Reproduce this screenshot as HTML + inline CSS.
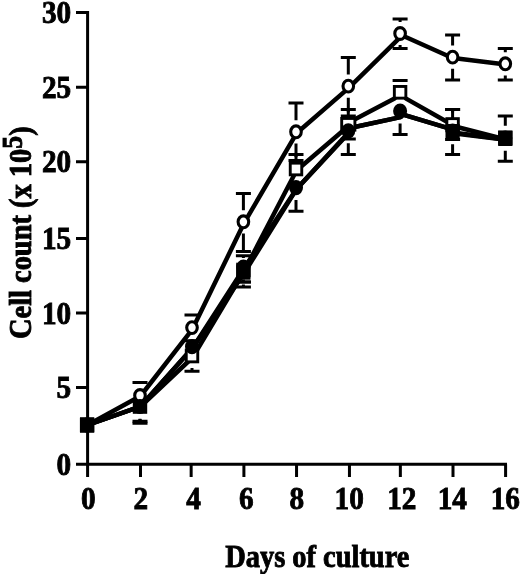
<!DOCTYPE html>
<html><head><meta charset="utf-8"><style>
html,body{margin:0;padding:0;background:#fff;}
svg{display:block;filter:grayscale(1);}
text{font-family:"Liberation Serif",serif;font-weight:bold;font-size:32.5px;fill:#000;stroke:#000;stroke-width:0.9px;}
</style></head><body>
<svg width="520" height="574" viewBox="0 0 520 574">
<g stroke="#000" stroke-width="3" fill="none">
<path d="M87.60 11V477M76 464.20H507M76 387.40H87.6M76 312.90H87.6M76 238.45H87.6M76 161.80H87.6M76 87.20H87.6M76 12.50H87.6M140.50 464.2V477M191.15 464.2V477M243.90 464.2V477M296.55 464.2V477M349.45 464.2V477M400.35 464.2V477M453.00 464.2V477M505.60 464.2V477"/>
</g>
<g>
<text transform="translate(71.2 474.84) scale(0.9 1)" text-anchor="end">0</text><text transform="translate(71.2 398.04) scale(0.9 1)" text-anchor="end">5</text><text transform="translate(71.2 323.54) scale(0.9 1)" text-anchor="end">10</text><text transform="translate(71.2 249.09) scale(0.9 1)" text-anchor="end">15</text><text transform="translate(71.2 172.44) scale(0.9 1)" text-anchor="end">20</text><text transform="translate(71.2 97.84) scale(0.9 1)" text-anchor="end">25</text><text transform="translate(71.2 23.14) scale(0.9 1)" text-anchor="end">30</text>
<text transform="translate(88.35 508.6) scale(0.9 1)" text-anchor="middle">0</text><text transform="translate(140.90 508.6) scale(0.9 1)" text-anchor="middle">2</text><text transform="translate(193.45 508.6) scale(0.9 1)" text-anchor="middle">4</text><text transform="translate(246.25 508.6) scale(0.9 1)" text-anchor="middle">6</text><text transform="translate(296.90 508.6) scale(0.9 1)" text-anchor="middle">8</text><text transform="translate(349.15 508.6) scale(0.9 1)" text-anchor="middle">10</text><text transform="translate(401.75 508.6) scale(0.9 1)" text-anchor="middle">12</text><text transform="translate(452.30 508.6) scale(0.9 1)" text-anchor="middle">14</text><text transform="translate(505.30 508.6) scale(0.9 1)" text-anchor="middle">16</text>
<text transform="translate(225.2 567.1) scale(0.875 1)">Days of culture</text>
<text transform="translate(31 339) rotate(-90) scale(0.875 1)">Cell count (x 10<tspan dy="-8.6" style="font-size:29.5px">5</tspan><tspan dy="8.6">)</tspan></text>
</g>
<g stroke="#000" stroke-width="3.0" fill="none">
<path d="M140.00 383.90V382.60M132.50 382.60h15M192.00 316.00V315.10M184.50 315.10h15M243.40 210.20V193.50M235.90 193.50h15M243.40 233.40V251.50M235.90 251.50h15M296.00 120.20V103.00M288.50 103.00h15M296.00 143.40V160.60M288.50 160.60h15M348.30 74.50V57.60M340.80 57.60h15M348.30 97.70V116.10M340.80 116.10h15M400.10 21.90V19.00M392.60 19.00h15M400.10 45.10V48.50M392.60 48.50h15M452.60 45.50V35.00M445.10 35.00h15M452.60 68.70V80.00M445.10 80.00h15M505.30 52.20V48.50M497.80 48.50h15M505.30 75.40V80.00M497.80 80.00h15"/>
<path d="M192.00 344.00V340.80M184.50 340.80h15M192.00 368.00V371.20M184.50 371.20h15M243.40 258.00V255.80M235.90 255.80h15M243.40 282.00V282.10M235.90 282.10h15M296.00 157.00V154.60M288.50 154.60h15M348.30 112.30V109.60M340.80 109.60h15M348.30 136.30V139.00M340.80 139.00h15M400.10 80.40V80.40M392.60 80.40h15M452.60 112.50V109.40M445.10 109.40h15M452.60 136.50V139.60M445.10 139.60h15"/>
<path d="M140.00 419.00V423.20M132.50 423.20h15M243.40 279.50V282.10M235.90 282.10h15M296.00 200.10V211.30M288.50 211.30h15M348.30 143.30V154.40M340.80 154.40h15M400.10 123.60V134.50M392.60 134.50h15"/>
<path d="M140.00 418.80V421.30M132.50 421.30h15M243.40 284.50V286.90M235.90 286.90h15M452.60 119.20V109.40M445.10 109.40h15M452.60 144.20V154.50M445.10 154.50h15M505.30 125.80V115.90M497.80 115.90h15M505.30 150.80V161.30M497.80 161.30h15"/>
</g>
<path d="M87.60 425.00L140.50 396.00M140.50 396.00L192.50 329.10M192.50 329.10L243.90 223.30M243.90 223.30L296.50 133.30M296.50 133.30L348.80 87.90M348.80 87.80L400.60 36.90M400.60 34.70L453.10 58.30M453.10 58.10L505.80 64.60" fill="none" stroke="#000" stroke-width="4.5" stroke-linecap="round"/>
<path d="M87.60 425.00L140.50 406.50M140.50 406.50L192.50 357.50M192.50 357.50L243.90 271.50M243.90 271.50L296.50 170.50M296.50 170.50L348.80 125.80M348.80 122.60L394.50 98.60M406.10 98.60L453.10 125.20M453.10 126.00L505.80 139.50" fill="none" stroke="#000" stroke-width="4.5" stroke-linecap="round"/>
<path d="M87.60 425.00L140.50 406.50M140.50 406.50L192.50 348.10M192.50 348.10L243.90 268.50M243.90 268.50L296.50 189.10M296.50 189.10L348.80 132.30M348.80 128.20L400.60 117.10M400.60 113.90L453.10 129.60M453.10 132.50L505.80 139.50" fill="none" stroke="#000" stroke-width="4.5" stroke-linecap="round"/>
<path d="M87.60 425.00L140.50 406.30M140.50 406.30L192.50 348.00M192.50 348.00L243.90 273.50M243.90 273.50L296.50 189.10M296.50 189.10L348.80 133.00M348.80 128.20L400.60 117.10M400.60 113.90L453.10 129.60M453.10 133.20L505.80 139.80" fill="none" stroke="#000" stroke-width="4.5" stroke-linecap="round"/>
<rect x="81.35" y="419.15" width="11.5" height="11.7" fill="#fff" stroke="#000" stroke-width="2.9"/>
<rect x="134.25" y="400.65" width="11.5" height="11.7" fill="#fff" stroke="#000" stroke-width="2.9"/>
<rect x="186.25" y="350.15" width="11.5" height="11.7" fill="#fff" stroke="#000" stroke-width="2.9"/>
<rect x="237.65" y="264.15" width="11.5" height="11.7" fill="#fff" stroke="#000" stroke-width="2.9"/>
<rect x="290.25" y="163.15" width="11.5" height="11.7" fill="#fff" stroke="#000" stroke-width="2.9"/>
<rect x="341.70" y="118.45" width="13.2" height="11.7" fill="#fff" stroke="#000" stroke-width="2.9"/>
<rect x="394.35" y="86.45" width="11.5" height="11.7" fill="#fff" stroke="#000" stroke-width="2.9"/>
<rect x="446.85" y="118.65" width="11.5" height="11.7" fill="#fff" stroke="#000" stroke-width="2.9"/>
<rect x="499.55" y="132.15" width="11.5" height="11.7" fill="#fff" stroke="#000" stroke-width="2.9"/>
<ellipse cx="87.10" cy="425.00" rx="5.3" ry="5.9" fill="#fff" stroke="#000" stroke-width="3.1"/>
<ellipse cx="140.00" cy="395.50" rx="5.3" ry="5.9" fill="#fff" stroke="#000" stroke-width="3.1"/>
<ellipse cx="192.00" cy="327.60" rx="5.3" ry="5.9" fill="#fff" stroke="#000" stroke-width="3.1"/>
<ellipse cx="243.40" cy="221.80" rx="5.3" ry="5.9" fill="#fff" stroke="#000" stroke-width="3.1"/>
<ellipse cx="296.00" cy="131.80" rx="5.3" ry="5.9" fill="#fff" stroke="#000" stroke-width="3.1"/>
<ellipse cx="348.30" cy="86.10" rx="5.3" ry="5.9" fill="#fff" stroke="#000" stroke-width="3.1"/>
<ellipse cx="400.10" cy="33.50" rx="5.3" ry="5.9" fill="#fff" stroke="#000" stroke-width="3.1"/>
<ellipse cx="452.60" cy="57.10" rx="5.3" ry="5.9" fill="#fff" stroke="#000" stroke-width="3.1"/>
<ellipse cx="505.30" cy="63.80" rx="5.3" ry="5.9" fill="#fff" stroke="#000" stroke-width="3.1"/>
<rect x="80.00" y="417.30" width="14.2" height="15.4" fill="#000"/>
<rect x="236.30" y="264.30" width="14.2" height="15.4" fill="#000"/>
<rect x="445.50" y="124.00" width="14.2" height="15.4" fill="#000"/>
<rect x="498.20" y="130.60" width="14.2" height="15.4" fill="#000"/>
<ellipse cx="87.10" cy="425.00" rx="7.0" ry="7.6" fill="#000"/>
<ellipse cx="140.00" cy="406.50" rx="7.0" ry="7.6" fill="#000"/>
<ellipse cx="192.00" cy="346.60" rx="7.0" ry="7.6" fill="#000"/>
<ellipse cx="243.40" cy="267.00" rx="7.0" ry="7.6" fill="#000"/>
<ellipse cx="296.00" cy="187.60" rx="7.0" ry="7.6" fill="#000"/>
<ellipse cx="348.30" cy="130.80" rx="7.0" ry="7.6" fill="#000"/>
<ellipse cx="400.10" cy="111.10" rx="7.0" ry="7.6" fill="#000"/>
<ellipse cx="452.60" cy="131.00" rx="7.0" ry="7.6" fill="#000"/>
<ellipse cx="505.30" cy="138.00" rx="7.0" ry="7.6" fill="#000"/>
</svg>
</body></html>
